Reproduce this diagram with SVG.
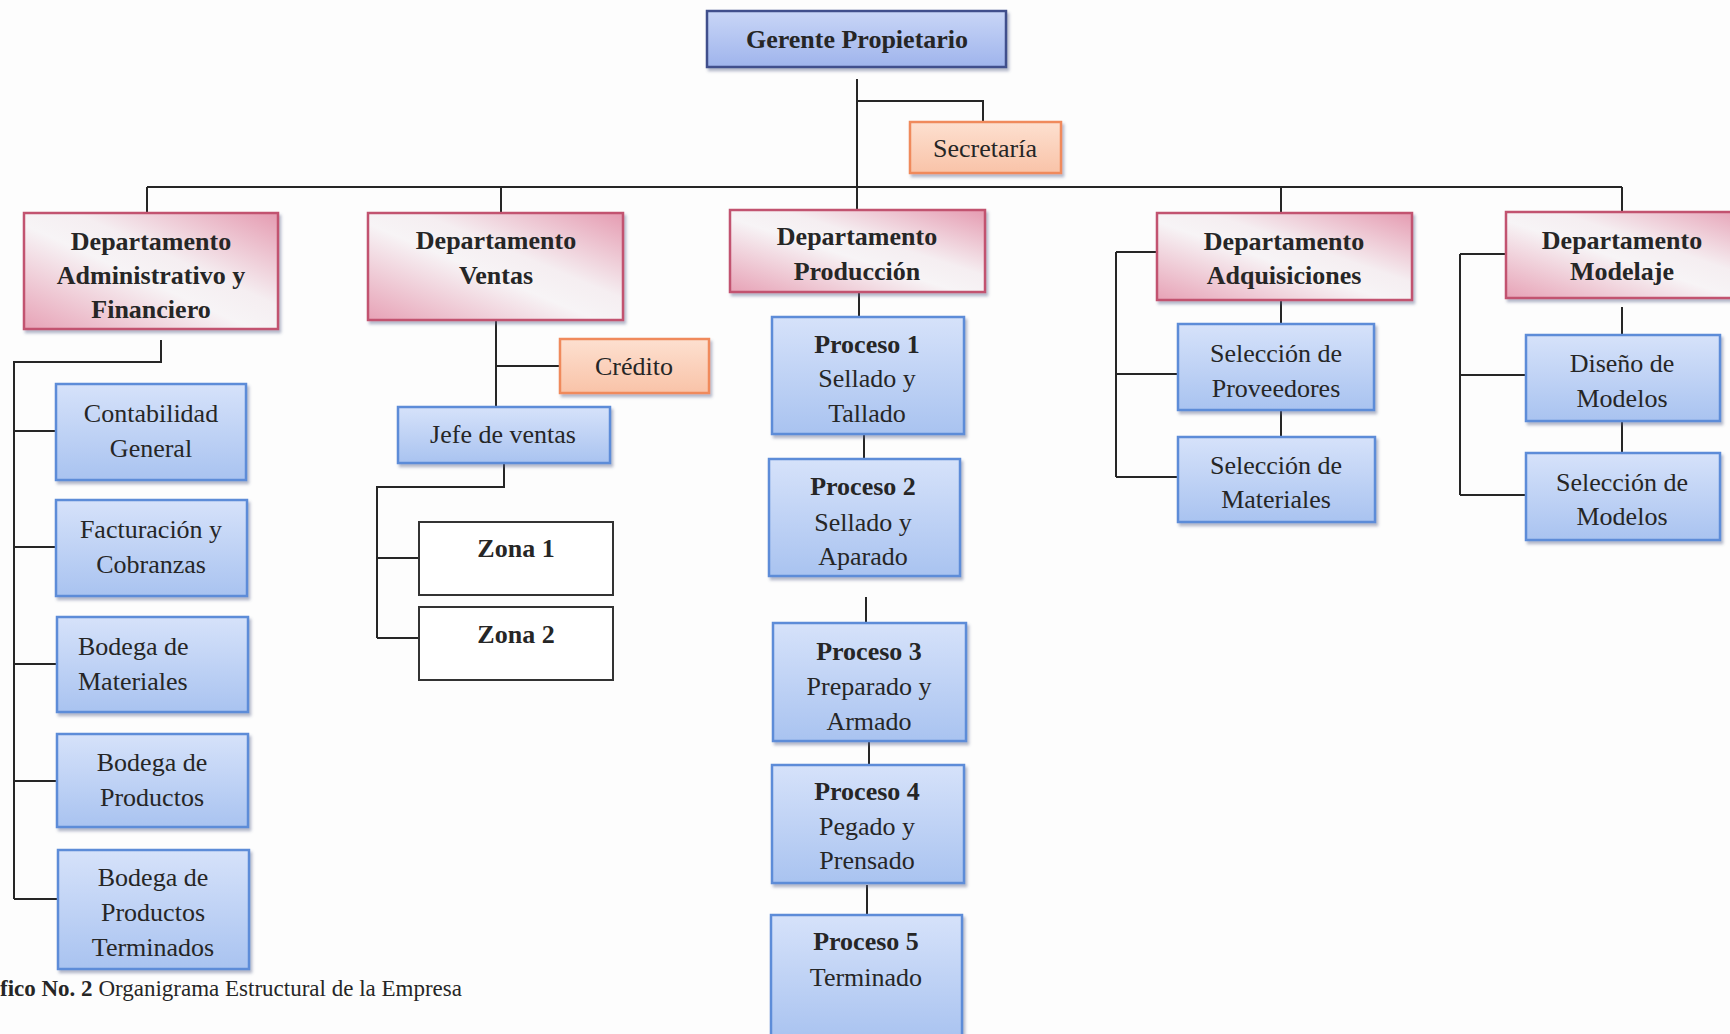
<svg xmlns="http://www.w3.org/2000/svg" width="1730" height="1034" viewBox="0 0 1730 1034">
<defs>
<linearGradient id="gBlue" x1="0" y1="0" x2="0" y2="1">
<stop offset="0" stop-color="#d6e2fa"/>
<stop offset="1" stop-color="#a9c3f0"/>
</linearGradient>
<linearGradient id="gTop" x1="0" y1="0" x2="0" y2="1">
<stop offset="0" stop-color="#c9d6f7"/>
<stop offset="1" stop-color="#9fb4ec"/>
</linearGradient>
<linearGradient id="gPink" x1="0" y1="1" x2="1" y2="0">
<stop offset="0" stop-color="#e7a2b6"/>
<stop offset="0.45" stop-color="#f7f4f6"/>
<stop offset="0.6" stop-color="#f5eef1"/>
<stop offset="1" stop-color="#e59bb1"/>
</linearGradient>
<linearGradient id="gOrange" x1="0" y1="0" x2="0" y2="1">
<stop offset="0" stop-color="#fde0d0"/>
<stop offset="1" stop-color="#f9c3a8"/>
</linearGradient>
<filter id="sh" x="-5%" y="-5%" width="115%" height="120%">
<feDropShadow dx="2" dy="3" stdDeviation="1.5" flood-color="#56648a" flood-opacity="0.45"/>
</filter>
<style>
.blue{fill:url(#gBlue);stroke:#5d8cd8;stroke-width:2.5;filter:url(#sh)}
.top{fill:url(#gTop);stroke:#3f4f8c;stroke-width:2.5;filter:url(#sh)}
.pink{fill:url(#gPink);stroke:#c2536f;stroke-width:2.5;filter:url(#sh)}
.orange{fill:url(#gOrange);stroke:#f08a5b;stroke-width:2.5;filter:url(#sh)}
.zona{fill:#ffffff;stroke:#333333;stroke-width:2}
text{font-family:"Liberation Serif","Times New Roman",serif;fill:#262626;font-size:26px}
.c{text-anchor:middle}
.b{font-weight:bold}
.con path{fill:none;stroke:#262626;stroke-width:2}
</style>
</defs>
<rect x="0" y="0" width="1730" height="1034" fill="#fdfdfd"/>

<g class="con" id="connectors">
<path d="M857,79 V210"/>
<path d="M857,101 H983 V122"/>
<path d="M147,187 H1622"/>
<path d="M147,187 V213"/>
<path d="M501,187 V213"/>
<path d="M1281,187 V213"/>
<path d="M1622,187 V212"/>
<path d="M161,340 V362 H14 V899"/>
<path d="M14,431 H56"/>
<path d="M14,547 H56"/>
<path d="M14,664 H57"/>
<path d="M14,781 H57"/>
<path d="M14,899 H58"/>
<path d="M496,320 V407"/>
<path d="M496,366 H560"/>
<path d="M504,463 V487 H377 V638"/>
<path d="M377,558 H419"/>
<path d="M377,638 H419"/>
<path d="M859,292 V317"/>
<path d="M864,434 V459"/>
<path d="M866,597 V623"/>
<path d="M869,741 V765"/>
<path d="M867,885 V915"/>
<path d="M1116,252 V477"/>
<path d="M1116,252 H1157"/>
<path d="M1116,374 H1178"/>
<path d="M1116,477 H1178"/>
<path d="M1281,300 V324"/>
<path d="M1281,410 V437"/>
<path d="M1460,254 V495"/>
<path d="M1460,254 H1506"/>
<path d="M1460,375 H1526"/>
<path d="M1460,495 H1526"/>
<path d="M1622,307 V335"/>
<path d="M1622,421 V453"/>
</g>

<g id="gerente">
<rect class="top" x="707" y="11" width="299" height="56"/>
<text class="c b" x="857" y="48">Gerente Propietario</text>
</g>
<g id="secretaria">
<rect class="orange" x="910" y="122" width="151" height="51"/>
<text class="c" x="985" y="157">Secretaría</text>
</g>

<g id="dep-admin">
<rect class="pink" x="24" y="213" width="254" height="116"/>
<text class="c b"><tspan x="151" y="250">Departamento</tspan><tspan x="151" y="284">Administrativo y</tspan><tspan x="151" y="318">Financiero</tspan></text>
</g>
<g id="contabilidad">
<rect class="blue" x="56" y="384" width="190" height="96"/>
<text class="c"><tspan x="151" y="422">Contabilidad</tspan><tspan x="151" y="457">General</tspan></text>
</g>
<g id="facturacion">
<rect class="blue" x="56" y="500" width="191" height="96"/>
<text class="c"><tspan x="151" y="538">Facturación y</tspan><tspan x="151" y="573">Cobranzas</tspan></text>
</g>
<g id="bodega-materiales">
<rect class="blue" x="57" y="617" width="191" height="95"/>
<text><tspan x="78" y="655">Bodega de</tspan><tspan x="78" y="690">Materiales</tspan></text>
</g>
<g id="bodega-productos">
<rect class="blue" x="57" y="734" width="191" height="93"/>
<text class="c"><tspan x="152" y="771">Bodega de</tspan><tspan x="152" y="806">Productos</tspan></text>
</g>
<g id="bodega-terminados">
<rect class="blue" x="58" y="850" width="191" height="119"/>
<text class="c"><tspan x="153" y="886">Bodega de</tspan><tspan x="153" y="921">Productos</tspan><tspan x="153" y="956">Terminados</tspan></text>
</g>

<g id="dep-ventas">
<rect class="pink" x="368" y="213" width="255" height="107"/>
<text class="c b"><tspan x="496" y="249">Departamento</tspan><tspan x="496" y="284">Ventas</tspan></text>
</g>
<g id="credito">
<rect class="orange" x="560" y="339" width="149" height="54"/>
<text class="c" x="634" y="375">Crédito</text>
</g>
<g id="jefe-ventas">
<rect class="blue" x="398" y="407" width="212" height="56"/>
<text class="c" x="503" y="443">Jefe de ventas</text>
</g>
<g id="zona1">
<rect class="zona" x="419" y="522" width="194" height="73"/>
<text class="c b" x="516" y="557">Zona 1</text>
</g>
<g id="zona2">
<rect class="zona" x="419" y="607" width="194" height="73"/>
<text class="c b" x="516" y="643">Zona 2</text>
</g>

<g id="dep-produccion">
<rect class="pink" x="730" y="210" width="255" height="82"/>
<text class="c b"><tspan x="857" y="245">Departamento</tspan><tspan x="857" y="280">Producción</tspan></text>
</g>
<g id="proceso1">
<rect class="blue" x="772" y="317" width="192" height="117"/>
<text class="c"><tspan class="b" x="867" y="353">Proceso 1</tspan><tspan x="867" y="387">Sellado y</tspan><tspan x="867" y="422">Tallado</tspan></text>
</g>
<g id="proceso2">
<rect class="blue" x="769" y="459" width="191" height="117"/>
<text class="c"><tspan class="b" x="863" y="495">Proceso 2</tspan><tspan x="863" y="531">Sellado y</tspan><tspan x="863" y="565">Aparado</tspan></text>
</g>
<g id="proceso3">
<rect class="blue" x="773" y="623" width="193" height="118"/>
<text class="c"><tspan class="b" x="869" y="660">Proceso 3</tspan><tspan x="869" y="695">Preparado y</tspan><tspan x="869" y="730">Armado</tspan></text>
</g>
<g id="proceso4">
<rect class="blue" x="772" y="765" width="192" height="118"/>
<text class="c"><tspan class="b" x="867" y="800">Proceso 4</tspan><tspan x="867" y="835">Pegado y</tspan><tspan x="867" y="869">Prensado</tspan></text>
</g>
<g id="proceso5">
<rect class="blue" x="771" y="915" width="191" height="125"/>
<text class="c"><tspan class="b" x="866" y="950">Proceso 5</tspan><tspan x="866" y="986">Terminado</tspan></text>
</g>

<g id="dep-adquisiciones">
<rect class="pink" x="1157" y="213" width="255" height="87"/>
<text class="c b"><tspan x="1284" y="250">Departamento</tspan><tspan x="1284" y="284">Adquisiciones</tspan></text>
</g>
<g id="sel-proveedores">
<rect class="blue" x="1178" y="324" width="196" height="86"/>
<text class="c"><tspan x="1276" y="362">Selección de</tspan><tspan x="1276" y="397">Proveedores</tspan></text>
</g>
<g id="sel-materiales">
<rect class="blue" x="1178" y="437" width="197" height="85"/>
<text class="c"><tspan x="1276" y="474">Selección de</tspan><tspan x="1276" y="508">Materiales</tspan></text>
</g>

<g id="dep-modelaje">
<rect class="pink" x="1506" y="212" width="256" height="86"/>
<text class="c b"><tspan x="1622" y="249">Departamento</tspan><tspan x="1622" y="280">Modelaje</tspan></text>
</g>
<g id="diseno-modelos">
<rect class="blue" x="1526" y="335" width="194" height="86"/>
<text class="c"><tspan x="1622" y="372">Diseño de</tspan><tspan x="1622" y="407">Modelos</tspan></text>
</g>
<g id="sel-modelos">
<rect class="blue" x="1526" y="453" width="194" height="87"/>
<text class="c"><tspan x="1622" y="491">Selección de</tspan><tspan x="1622" y="525">Modelos</tspan></text>
</g>

<text id="caption" x="0" y="996" style="font-size:23px"><tspan class="b">fico No. 2</tspan> Organigrama Estructural de la Empresa</text>
</svg>
